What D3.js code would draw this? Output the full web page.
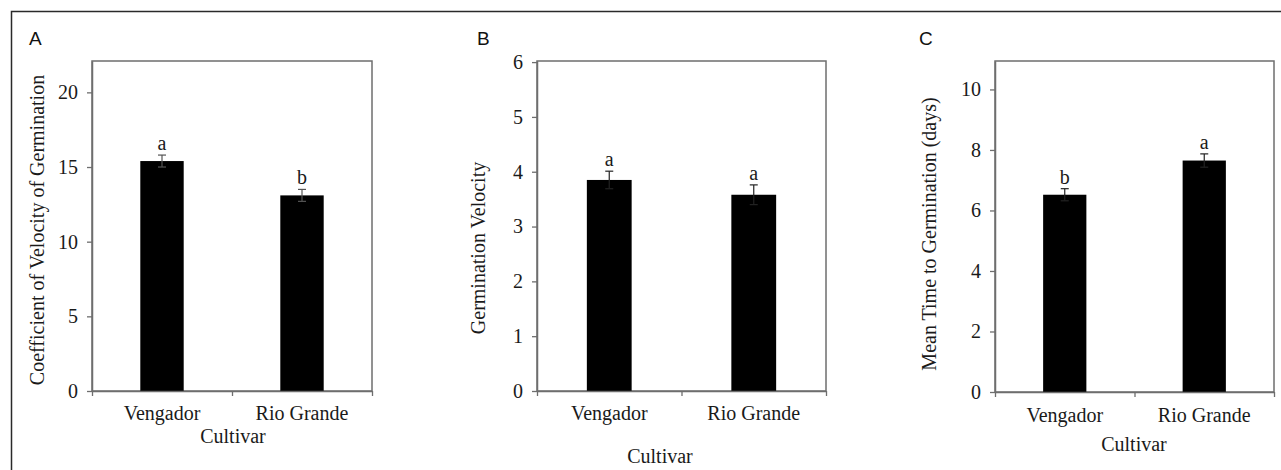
<!DOCTYPE html>
<html>
<head>
<meta charset="utf-8">
<script src="https://cdn.jsdelivr.net/npm/d3@7"></script>
<style>
  html, body { margin: 0; padding: 0; background: #fff; }
  svg { display: block; }
</style>
</head>
<body>
<svg id="chart" width="1281" height="470"></svg>
<script>
// ---- data ----
const categories = ["Vengador", "Rio Grande"];

const cvgMeans = [15.4, 13.1];
const cvgErrors = [0.4, 0.4];
const cvgLetters = ["a", "b"];
const cvgTicks = [0, 5, 10, 15, 20];

const gvMeans = [3.85, 3.58];
const gvErrors = [0.16, 0.18];
const gvLetters = ["a", "a"];
const gvTicks = [0, 1, 2, 3, 4, 5, 6];

const mtgMeans = [6.52, 7.65];
const mtgErrors = [0.2, 0.22];
const mtgLetters = ["b", "a"];
const mtgTicks = [0, 2, 4, 6, 8, 10];

const panelLabels = ["A", "B", "C"];
const yTitles = ["Coefficient of Velocity of Germination", "Germination Velocity", "Mean Time to Germination (days)"];
const xTitle = "Cultivar";

// ---- layout ----
const svg = d3.select("#chart");
const serif = "'Liberation Serif', 'Times New Roman', serif";
const sans = "'Liberation Sans', Arial, sans-serif";
const frameColor = "#6e6e6e";
const textColor = "#1a1a1a";

// outer border (top and left)
svg.append("path")
  .attr("d", "M11.5,470 L11.5,11.5 L1281,11.5")
  .attr("fill", "none").attr("stroke", "#2a2a2a").attr("stroke-width", 1.5);

const panels = [
  { label: panelLabels[0], labelX: 29, means: cvgMeans, errs: cvgErrors, letters: cvgLetters, ticks: cvgTicks,
    yMax: 22.1, left: 92, right: 372, top: 61, bottom: 391, yTitle: yTitles[0], yTitleX: 44, yTitleY: 230,
    xTitleX: 233, xTitleY: 443, catY: 420, errColor: "#555" },
  { label: panelLabels[1], labelX: 477, means: gvMeans, errs: gvErrors, letters: gvLetters, ticks: gvTicks,
    yMax: 6.02, left: 537, right: 826, top: 61, bottom: 391, yTitle: yTitles[1], yTitleX: 485, yTitleY: 248,
    xTitleX: 660, xTitleY: 463, catY: 420, errColor: "#222" },
  { label: panelLabels[2], labelX: 919, means: mtgMeans, errs: mtgErrors, letters: mtgLetters, ticks: mtgTicks,
    yMax: 10.94, left: 995, right: 1274, top: 61, bottom: 392, yTitle: yTitles[2], yTitleX: 936, yTitleY: 234,
    xTitleX: 1134, xTitleY: 451, catY: 422, errColor: "#222" }
];

panels.forEach(p => {
  const g = svg.append("g");

  const x = d3.scaleBand().domain(categories).range([p.left, p.right])
    .paddingInner(0.69).paddingOuter(0.345);
  const y = d3.scaleLinear().domain([0, p.yMax]).range([p.bottom, p.top]);

  // frame
  g.append("rect")
    .attr("x", p.left).attr("y", p.top)
    .attr("width", p.right - p.left).attr("height", p.bottom - p.top)
    .attr("fill", "none").attr("stroke", frameColor).attr("stroke-width", 1.5);

  // bars
  g.selectAll("rect.bar").data(categories).enter().append("rect")
    .attr("class", "bar")
    .attr("x", d => x(d))
    .attr("width", x.bandwidth())
    .attr("y", (d, i) => y(p.means[i]))
    .attr("height", (d, i) => y(0) - y(p.means[i]))
    .attr("fill", "#000");

  // error bars
  const cap = 4;
  categories.forEach((c, i) => {
    const cx = x(c) + x.bandwidth() / 2;
    const hi = y(p.means[i] + p.errs[i]);
    const lo = y(p.means[i] - p.errs[i]);
    const eg = g.append("g").attr("stroke", p.errColor).attr("stroke-width", 1.2);
    eg.append("line").attr("x1", cx).attr("x2", cx).attr("y1", hi).attr("y2", lo);
    eg.append("line").attr("x1", cx - cap).attr("x2", cx + cap).attr("y1", hi).attr("y2", hi);
    eg.append("line").attr("x1", cx - cap).attr("x2", cx + cap).attr("y1", lo).attr("y2", lo);
    g.append("text")
      .attr("x", cx).attr("y", hi - 5)
      .attr("text-anchor", "middle")
      .attr("font-family", serif).attr("font-size", 20).attr("fill", textColor)
      .text(p.letters[i]);
  });

  // y axis
  const yAxis = g.append("g")
    .attr("transform", `translate(${p.left},0)`)
    .call(d3.axisLeft(y).tickValues(p.ticks).tickSize(5).tickSizeOuter(0).tickPadding(9)
      .tickFormat(d3.format("d")));
  yAxis.select(".domain").attr("stroke", frameColor).attr("stroke-width", 1.5);
  yAxis.selectAll(".tick line").attr("stroke", frameColor).attr("stroke-width", 1.3);
  yAxis.selectAll(".tick text")
    .attr("font-family", serif).attr("font-size", 20).attr("fill", textColor);

  // x axis ticks at edges and between categories
  const xt = d3.scaleLinear().domain([0, 2]).range([p.left, p.right]);
  const xAxis = g.append("g")
    .attr("transform", `translate(0,${p.bottom})`)
    .call(d3.axisBottom(xt).tickValues([0, 1, 2]).tickSize(5).tickSizeOuter(0).tickFormat(""));
  xAxis.select(".domain").attr("stroke", frameColor).attr("stroke-width", 1.5);
  xAxis.selectAll(".tick line").attr("stroke", frameColor).attr("stroke-width", 1.3);

  // category labels
  g.selectAll("text.cat").data(categories).enter().append("text")
    .attr("class", "cat")
    .attr("x", d => x(d) + x.bandwidth() / 2)
    .attr("y", p.catY)
    .attr("text-anchor", "middle")
    .attr("font-family", serif).attr("font-size", 20).attr("fill", textColor)
    .text(d => d);

  // x title
  g.append("text")
    .attr("x", p.xTitleX).attr("y", p.xTitleY)
    .attr("text-anchor", "middle")
    .attr("font-family", serif).attr("font-size", 20).attr("fill", textColor)
    .text(xTitle);

  // y title
  g.append("text")
    .attr("transform", `translate(${p.yTitleX},${p.yTitleY}) rotate(-90)`)
    .attr("text-anchor", "middle")
    .attr("font-family", serif).attr("font-size", 20).attr("fill", textColor)
    .text(p.yTitle);

  // panel label
  g.append("text")
    .attr("x", p.labelX).attr("y", 45)
    .attr("font-family", sans).attr("font-size", 19).attr("fill", "#111")
    .text(p.label);
});
</script>
</body>
</html>
